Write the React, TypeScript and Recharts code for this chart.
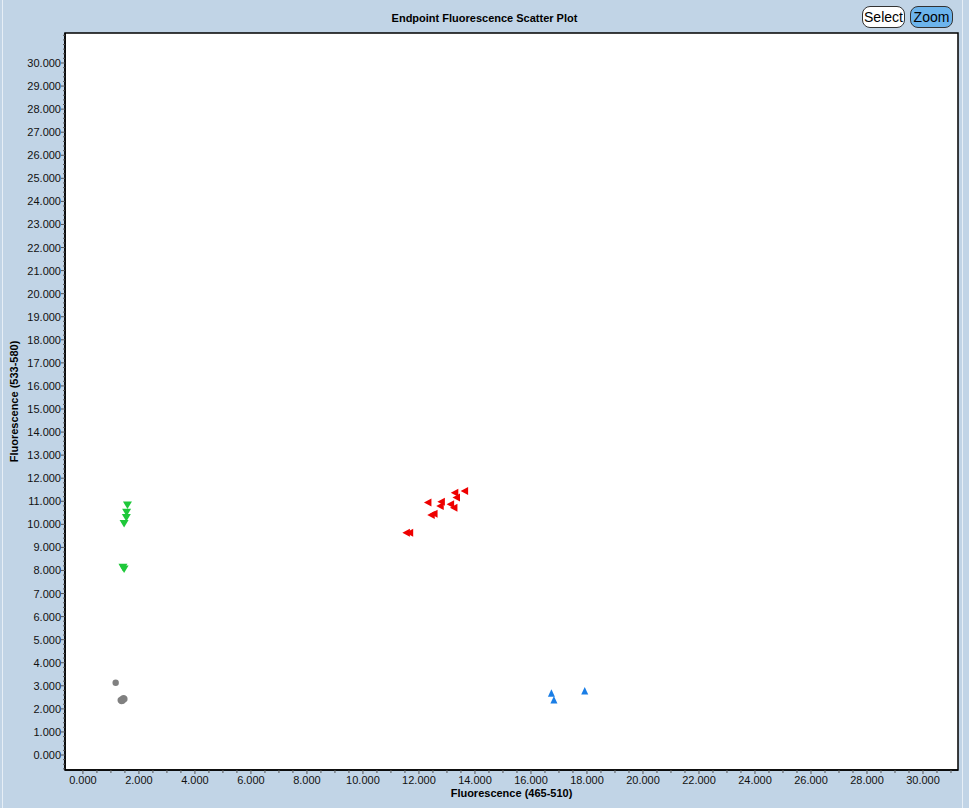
import { ScatterChart, Scatter, XAxis, YAxis, ReferenceArea, Label } from 'recharts';

// fluorescence readings (465-510 on x, 533-580 on y)
const grayX = [1.17, 1.35, 1.4, 1.45, 1.42, 1.48, 1.38];
const grayY = [3.13, 2.38, 2.42, 2.46, 2.36, 2.43, 2.34];
const greenX = [1.59, 1.56, 1.55, 1.47, 1.43, 1.47];
const greenY = [10.84, 10.52, 10.3, 10.04, 8.14, 8.06];
const redX = [12.32, 12.8, 12.76, 12.54, 12.44, 13.13, 13.25, 13.28, 13.34, 13.63, 11.67, 11.55];
const redY = [10.95, 10.98, 10.79, 10.46, 10.4, 10.87, 10.72, 11.37, 11.16, 11.44, 9.64, 9.64];
const blueX = [16.73, 16.82, 17.92];
const blueY = [2.68, 2.39, 2.78];

const xLabels = [0, 2, 4, 6, 8, 10, 12, 14, 16, 18, 20, 22, 24, 26, 28, 30];
const yLabels = [0, 1, 2, 3, 4, 5, 6, 7, 8, 9, 10, 11, 12, 13, 14, 15, 16, 17, 18, 19, 20, 21, 22, 23, 24, 25, 26, 27, 28, 29, 30];

const X_DOMAIN: [number, number] = [-0.64, 31.25];
const Y_DOMAIN: [number, number] = [-0.65, 31.3];

const pts = (xs: number[], ys: number[]) => xs.map((x, i) => ({ x, y: ys[i] }));

// minor ticks every 0.5 on x, every 0.2 on y
const xTicks: number[] = [];
for (let i = 0; i <= 62; i++) xTicks.push(i / 2);
const yTicks: number[] = [];
for (let i = -3; i <= 156; i++) yTicks.push(Math.round(i * 2) / 10);

const FONT = '"Liberation Sans", Arial, sans-serif';

const XTick = (props: any) => {
  const { x, y, payload } = props;
  const v = payload.value;
  const major = xLabels.includes(v);
  return (
    <g>
      <line x1={x} x2={x} y1={y} y2={y + (major ? 4 : 3)} stroke="#555" />
      {major && (
        <text x={x} y={y + 14} textAnchor="middle" fontSize={11} fontFamily={FONT} fill="#111">
          {v.toFixed(3)}
        </text>
      )}
    </g>
  );
};

const YTick = (props: any) => {
  const { x, y, payload } = props;
  const v = payload.value;
  const major = yLabels.includes(v);
  return (
    <g>
      <line x1={x} x2={x - (major ? 4 : 2)} y1={y} y2={y} stroke="#555" />
      {major && (
        <text x={x - 4} y={y + 4} textAnchor="end" fontSize={11} fontFamily={FONT} fill="#111">
          {v.toFixed(3)}
        </text>
      )}
    </g>
  );
};

const DownTri = (p: any) => (
  <polygon points={`${p.cx - 4.5},${p.cy - 3.5} ${p.cx + 4.5},${p.cy - 3.5} ${p.cx},${p.cy + 4}`} fill="#1ec83a" />
);
const LeftTri = (p: any) => (
  <polygon points={`${p.cx + 3.5},${p.cy - 4} ${p.cx + 3.5},${p.cy + 4} ${p.cx - 4},${p.cy}`} fill="#ee0000" />
);
const UpTri = (p: any) => (
  <polygon points={`${p.cx - 3.5},${p.cy + 3.5} ${p.cx + 3.5},${p.cy + 3.5} ${p.cx},${p.cy - 4}`} fill="#1a7ee6" />
);
const Dot = (p: any) => <circle cx={p.cx} cy={p.cy} r={3.2} fill="#808080" />;

const YTitle = (props: any) => {
  const { x, y, height } = props.viewBox;
  const cx = x + 18;
  const cy = y + height / 2;
  return (
    <text x={cx} y={cy} transform={`rotate(-90, ${cx}, ${cy})`} textAnchor="middle" fontSize={11} fontWeight="bold" fontFamily={FONT} fill="#000">
      Fluorescence (533-580)
    </text>
  );
};

const XTitle = (props: any) => {
  const { x, y, width } = props.viewBox;
  return (
    <text x={x + width / 2} y={y + 27} textAnchor="middle" fontSize={11} fontWeight="bold" fontFamily={FONT} fill="#000">
      Fluorescence (465-510)
    </text>
  );
};

const btn = {
  position: 'absolute' as const,
  top: 6,
  width: 43,
  height: 22,
  borderRadius: 8,
  border: '1px solid #333',
  fontFamily: FONT,
  fontSize: 14,
  lineHeight: '20px',
  textAlign: 'center' as const,
  boxSizing: 'border-box' as const,
  color: '#000',
};

export default function App() {
  return (
    <div style={{ position: 'fixed', left: 0, top: 0, width: 969, height: 808, background: '#c1d4e6', overflow: 'hidden' }}>
      <div style={{ position: 'absolute', left: 2, top: 0, width: 961, height: 808, borderLeft: '1px solid #e6eef6', borderRight: '1px solid #e6eef6', boxSizing: 'border-box' }} />
      <div style={{ position: 'absolute', left: 0, top: 12, width: 969, textAlign: 'center', fontFamily: FONT, fontWeight: 'bold', fontSize: 11, color: '#000' }}>
        Endpoint Fluorescence Scatter Plot
      </div>
      <div style={{ ...btn, left: 862, background: '#fff' }}>Select</div>
      <div style={{ ...btn, left: 910, background: '#6cb4ec' }}>Zoom</div>
      <div style={{ position: 'absolute', left: 0, top: 0 }}>
        <ScatterChart width={969} height={808} margin={{ top: 33, right: 11, left: 0, bottom: 0 }}>
          <ReferenceArea x1={X_DOMAIN[0]} x2={X_DOMAIN[1]} y1={Y_DOMAIN[0]} y2={Y_DOMAIN[1]} fill="#fff" fillOpacity={1} stroke="#000" strokeWidth={1.5} />
          <XAxis
            type="number"
            dataKey="x"
            domain={X_DOMAIN}
            ticks={xTicks}
            interval={0}
            allowDataOverflow
            height={38}
            tickSize={0}
            tickMargin={0}
            tickLine={false}
            axisLine={{ stroke: '#000', strokeWidth: 1.5 }}
            tick={<XTick />}
          >
            <Label content={<XTitle />} />
          </XAxis>
          <YAxis
            type="number"
            dataKey="y"
            domain={Y_DOMAIN}
            ticks={yTicks}
            interval={0}
            allowDataOverflow
            width={65}
            tickSize={0}
            tickMargin={0}
            tickLine={false}
            axisLine={{ stroke: '#000', strokeWidth: 1.5 }}
            tick={<YTick />}
          >
            <Label content={<YTitle />} />
          </YAxis>
          <Scatter data={pts(grayX, grayY)} shape={<Dot />} isAnimationActive={false} />
          <Scatter data={pts(greenX, greenY)} shape={<DownTri />} isAnimationActive={false} />
          <Scatter data={pts(redX, redY)} shape={<LeftTri />} isAnimationActive={false} />
          <Scatter data={pts(blueX, blueY)} shape={<UpTri />} isAnimationActive={false} />
        </ScatterChart>
      </div>
    </div>
  );
}
